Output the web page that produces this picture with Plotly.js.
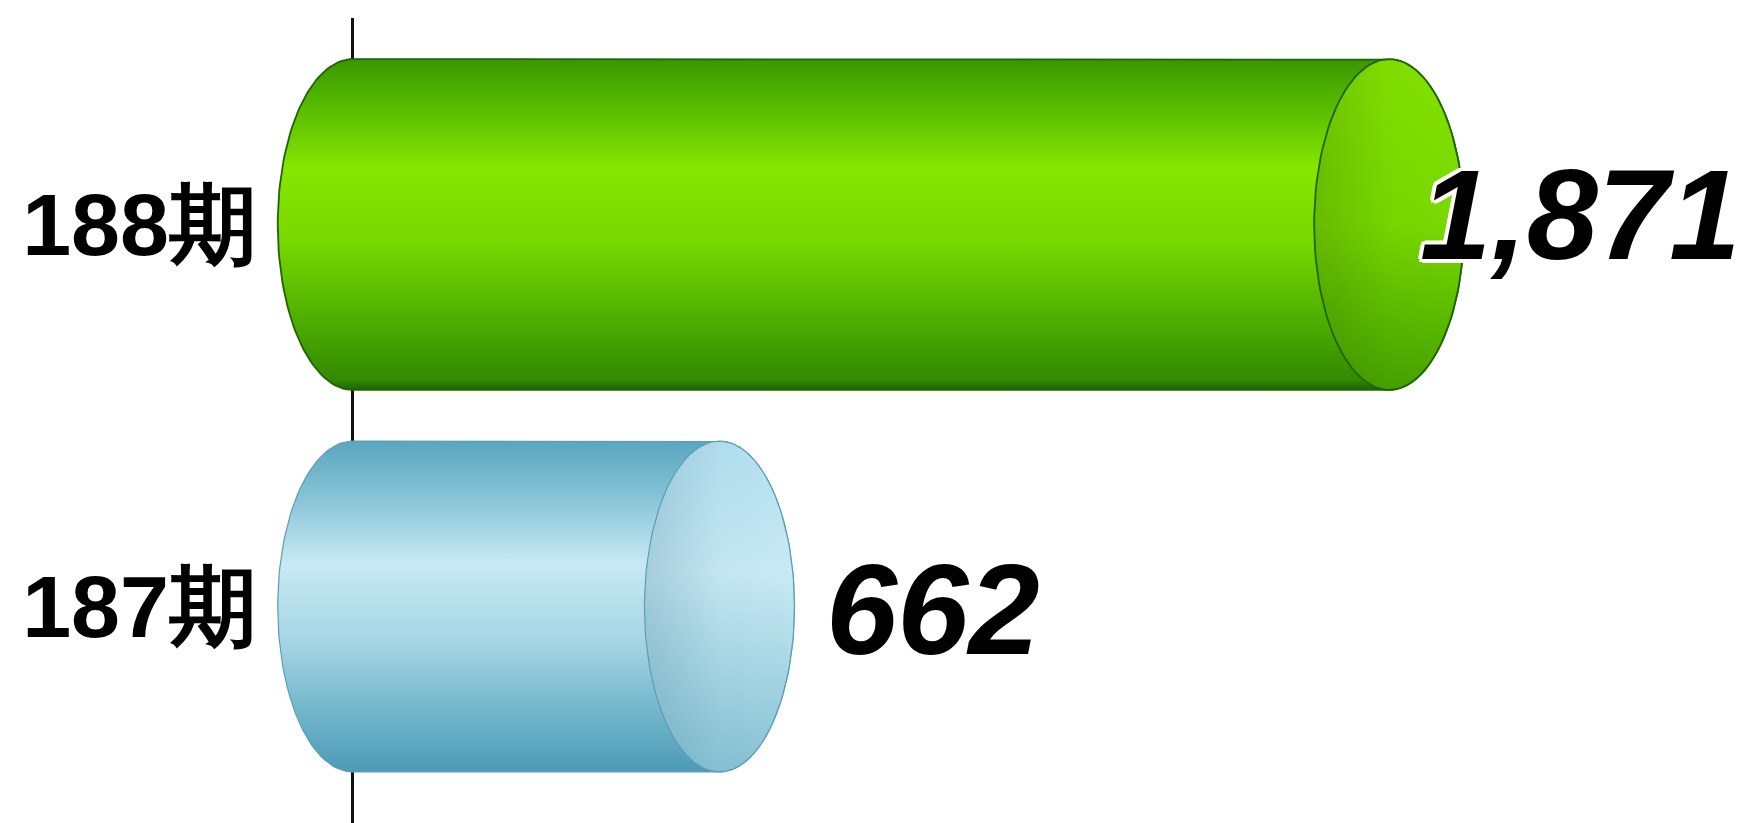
<!DOCTYPE html>
<html>
<head>
<meta charset="utf-8">
<script src="https://cdn.plot.ly/plotly-3.0.1.min.js"></script>
<style>
html,body{margin:0;padding:0;background:#fff;}
#chart{width:1742px;height:823px;}
</style>
</head>
<body>
<div id="chart"></div>
<script>
// ---- data ----
const categories = ['188期', '187期'];
const values = [1871, 662];
const valueLabels = ['1,871', '662'];

// ---- styles ----
const bodyScales = [
  [[0,'#3a9600'],[0.12,'#52b600'],[0.33,'#86e600'],[0.55,'#78d800'],[0.8,'#4cac00'],[0.97,'#338a00'],[1,'#1d6200']],
  [[0,'#5aa6c0'],[0.15,'#80c0d4'],[0.37,'#c8e9f3'],[0.6,'#a6d6e5'],[0.85,'#6bb1c8'],[1,'#4c9ab6']]
];
const faceScales = [
  [[0,'#84e200'],[0.5,'#7ad900'],[1,'#46a200']],
  [[0,'#b4e0f0'],[0.4,'#c8eaf4'],[1,'#86c2d4']]
];
const faceShade = [
  [[0,'rgba(20,70,0,0.20)'],[0.5,'rgba(20,70,0,0.03)'],[1,'rgba(20,70,0,0)']],
  [[0,'rgba(30,90,120,0.20)'],[0.5,'rgba(30,90,120,0.03)'],[1,'rgba(30,90,120,0)']]
];
const outlineColors = ['#1d6600', '#5a9eb5'];
const outlineWidths = [1.8, 1.2];

const W = 1742, H = 823;
const M = {l: 258, r: 0, t: 18, b: 0, pad: 0};
const X_RANGE = [-171, 2508];
const Y_RANGE = [1.5667, -0.5406];
const BAR_HALF = 0.433;
const CAP_RX_PX = 75;
const pxPerUnit = (W - M.l - M.r) / (X_RANGE[1] - X_RANGE[0]);
const rx = CAP_RX_PX / pxPerUnit;

function arc(cx, cy, ax, ay, t0, t1, n) {
  const xs = [], ys = [];
  for (let k = 0; k <= n; k++) {
    const t = t0 + (t1 - t0) * k / n;
    xs.push(cx + ax * Math.cos(t));
    ys.push(cy + ay * Math.sin(t));
  }
  return [xs, ys];
}

const traces = [];
const annotations = [];
values.forEach((v, i) => {
  const top = i - BAR_HALF, bot = i + BAR_HALF;
  const [rxs, rys] = arc(v, i, rx, BAR_HALF, -Math.PI/2, Math.PI/2, 80);
  const [lxs, lys] = arc(0, i, rx, BAR_HALF, Math.PI/2, 3*Math.PI/2, 80);
  const bx = [0].concat(rxs, lxs);
  const by = [top].concat(rys, lys);
  traces.push({
    type: 'scatter', mode: 'lines', x: bx, y: by, fill: 'toself',
    fillgradient: {type: 'vertical', start: top, stop: bot, colorscale: bodyScales[i]},
    line: {color: outlineColors[i], width: outlineWidths[i]},
    hoverinfo: 'skip', showlegend: false
  });
  const [fx, fy] = arc(v, i, rx, BAR_HALF, 0, 2*Math.PI, 120);
  traces.push({
    type: 'scatter', mode: 'lines', x: fx, y: fy, fill: 'toself',
    fillgradient: {type: 'vertical', start: top, stop: bot, colorscale: faceScales[i]},
    line: {width: 0, color: 'rgba(0,0,0,0)'},
    hoverinfo: 'skip', showlegend: false
  });
  traces.push({
    type: 'scatter', mode: 'lines', x: fx, y: fy, fill: 'toself',
    fillgradient: {type: 'horizontal', start: v - rx, stop: v + rx, colorscale: faceShade[i]},
    line: {width: 0, color: 'rgba(0,0,0,0)'},
    hoverinfo: 'skip', showlegend: false
  });
  traces.push({
    type: 'scatter', mode: 'lines', x: fx, y: fy,
    line: {color: outlineColors[i], width: outlineWidths[i]},
    hoverinfo: 'skip', showlegend: false
  });

  const FS = 128;
  const label = valueLabels[i];
  let estW = 0;
  for (const ch of label) estW += (ch === ',' ? 0.278 : 0.556) * FS;
  const leftPx = M.l + (v - X_RANGE[0]) * pxPerUnit + CAP_RX_PX + 30;
  const font = {
    family: 'Liberation Sans', size: FS, color: '#000',
    weight: 700, style: 'italic',
    shadow: '4px 0 0 #fff, -4px 0 0 #fff, 0 4px 0 #fff, 0 -4px 0 #fff, 3px 3px 0 #fff, -3px -3px 0 #fff, 3px -3px 0 #fff, -3px 3px 0 #fff'
  };
  if (leftPx + estW > W) {
    annotations.push({xref: 'paper', yref: 'y', x: 1, y: i, xanchor: 'right', yanchor: 'middle',
      text: label, showarrow: false, font: font, yshift: 10});
  } else {
    annotations.push({xref: 'x', yref: 'y', x: v, y: i, xanchor: 'left', yanchor: 'middle',
      xshift: CAP_RX_PX + 30, yshift: -3, text: label, showarrow: false, font: font});
  }
});

const layout = {
  width: W, height: H, margin: M,
  paper_bgcolor: '#fff', plot_bgcolor: '#fff',
  showlegend: false, hovermode: false,
  xaxis: {range: X_RANGE, showgrid: false, showticklabels: false, ticks: '',
    zeroline: true, zerolinecolor: '#111', zerolinewidth: 3, showline: false, fixedrange: true},
  yaxis: {range: Y_RANGE, tickmode: 'array', tickvals: values.map((_, i) => i), ticktext: categories,
    showgrid: false, zeroline: false, showline: false, ticks: '',
    tickfont: {family: 'Liberation Sans', size: 88, color: '#000', weight: 700},
    fixedrange: true},
  annotations: annotations
};

Plotly.newPlot('chart', traces, layout, {displayModeBar: false, staticPlot: true});
</script>
</body>
</html>
